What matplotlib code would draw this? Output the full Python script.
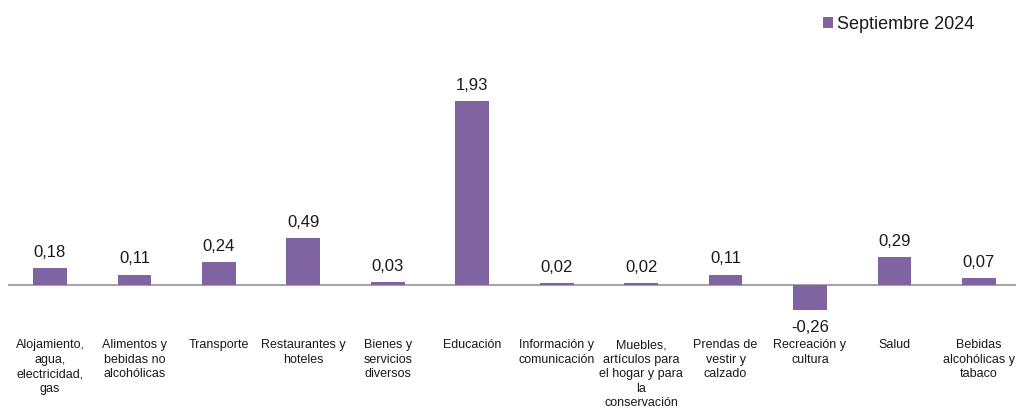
import matplotlib
matplotlib.use('Agg')
import matplotlib.pyplot as plt
import matplotlib.transforms as mtransforms

plt.rcParams['font.family'] = ['Liberation Sans', 'DejaVu Sans']

# Variacion mensual por division, septiembre 2024
categorias = ['Alojamiento,\nagua,\nelectricidad,\ngas',
              'Alimentos y\nbebidas no\nalcohólicas',
              'Transporte',
              'Restaurantes y\nhoteles',
              'Bienes y\nservicios\ndiversos',
              'Educación',
              'Información y\ncomunicación',
              'Muebles,\nartículos para\nel hogar y para\nla\nconservación',
              'Prendas de\nvestir y\ncalzado',
              'Recreación y\ncultura',
              'Salud',
              'Bebidas\nalcohólicas y\ntabaco']
valores = [0.18, 0.11, 0.24, 0.49, 0.03, 1.93, 0.02, 0.02, 0.11, -0.26, 0.29, 0.07]
serie = 'Septiembre 2024'

color_barra = '#8064a2'
color_texto = '#1a1a1a'

fig = plt.figure(figsize=(10.16, 4.08), dpi=100)
ax = fig.add_axes([8/1016, 78/408, 1008/1016, 290/408])

x = list(range(len(valores)))
bars = ax.bar(x, valores, width=0.40, color=color_barra, label=serie, zorder=2)
ax.axhline(0, color='#a6a6a6', lw=1.5, zorder=1)

for xi, v in zip(x, valores):
    txt = ('%.2f' % v).replace('.', ',')
    if v >= 0:
        ax.annotate(txt, (xi, v), xytext=(0, 6), textcoords='offset points',
                    ha='center', va='bottom', fontsize=12, color=color_texto)
    else:
        ax.annotate(txt, (xi, v), xytext=(0, -7), textcoords='offset points',
                    ha='center', va='top', fontsize=12, color=color_texto)

trans = mtransforms.blended_transform_factory(ax.transData, fig.transFigure)
for xi, cat in zip(x, categorias):
    ax.text(xi, 1 - 339/408, cat, transform=trans, ha='center', va='top',
            fontsize=9, linespacing=1.28, color=color_texto)

ax.set_xlim(-0.497, 11.44)
ax.set_ylim(-0.472, 2.57)
ax.axis('off')

fig.legend(handles=[bars], labels=[serie], loc='upper right',
           bbox_to_anchor=(0.975, 1.0), frameon=False, fontsize=13,
           handlelength=0.55, handleheight=0.55, handletextpad=0.25,
           labelcolor=color_texto)

fig.savefig('out.png', dpi=100)
